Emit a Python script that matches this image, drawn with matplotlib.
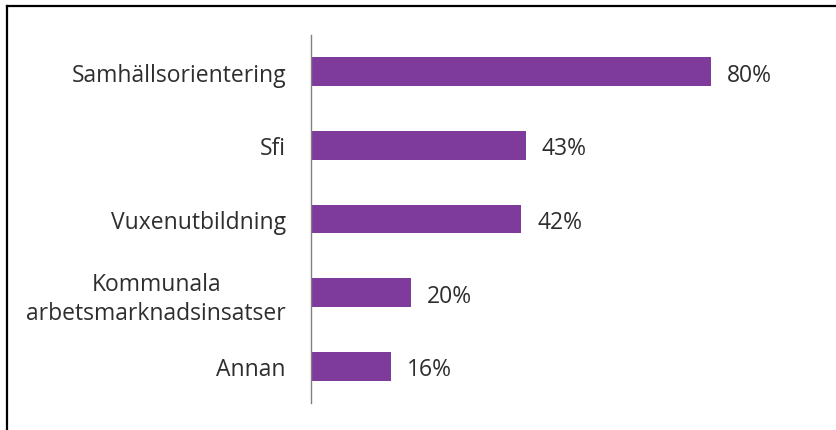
import matplotlib.pyplot as plt
from matplotlib.lines import Line2D

# data
categories = ['Samhällsorientering', 'Sfi', 'Vuxenutbildning',
              'Kommunala\narbetsmarknadsinsatser', 'Annan']
values = [80, 43, 42, 20, 16]

purple = '#7F3B9B'
txt = '#2e2e2e'
plt.rcParams['font.family'] = ['Open Sans', 'DejaVu Sans']

W, H = 836, 431
fig = plt.figure(figsize=(W / 100, H / 100), dpi=100)
ax = fig.add_axes([311 / W, 1 - 404 / H, 500 / W, 368 / H])

y = list(range(len(categories)))
ax.barh(y, values, height=0.39, color=purple)
ax.set_xlim(0, 100)
ax.set_ylim(len(categories) - 0.5, -0.5)

for yi, v in zip(y, values):
    ax.text(v + 3.2, yi, f'{v}%', va='center_baseline', ha='left',
            fontsize=16.5, color=txt)

ax.set_yticks(y)
ax.set_yticklabels(categories, fontsize=16.5, color=txt, multialignment='center',
                   linespacing=1.3)
ax.tick_params(axis='y', length=0, pad=18)
ax.set_xticks([])
for s in ['top', 'right', 'bottom']:
    ax.spines[s].set_visible(False)
ax.spines['left'].set_color('#808080')
ax.spines['left'].set_linewidth(1)

# frame of the original box (only top and left are in view)
fig.add_artist(Line2D([6.5 / W, 6.5 / W], [0, 1 - 6.5 / H], transform=fig.transFigure,
                      color='black', lw=1.6))
fig.add_artist(Line2D([6.5 / W, 1], [1 - 6.5 / H, 1 - 6.5 / H], transform=fig.transFigure,
                      color='black', lw=1.6))

fig.savefig('out.png', dpi=100)
